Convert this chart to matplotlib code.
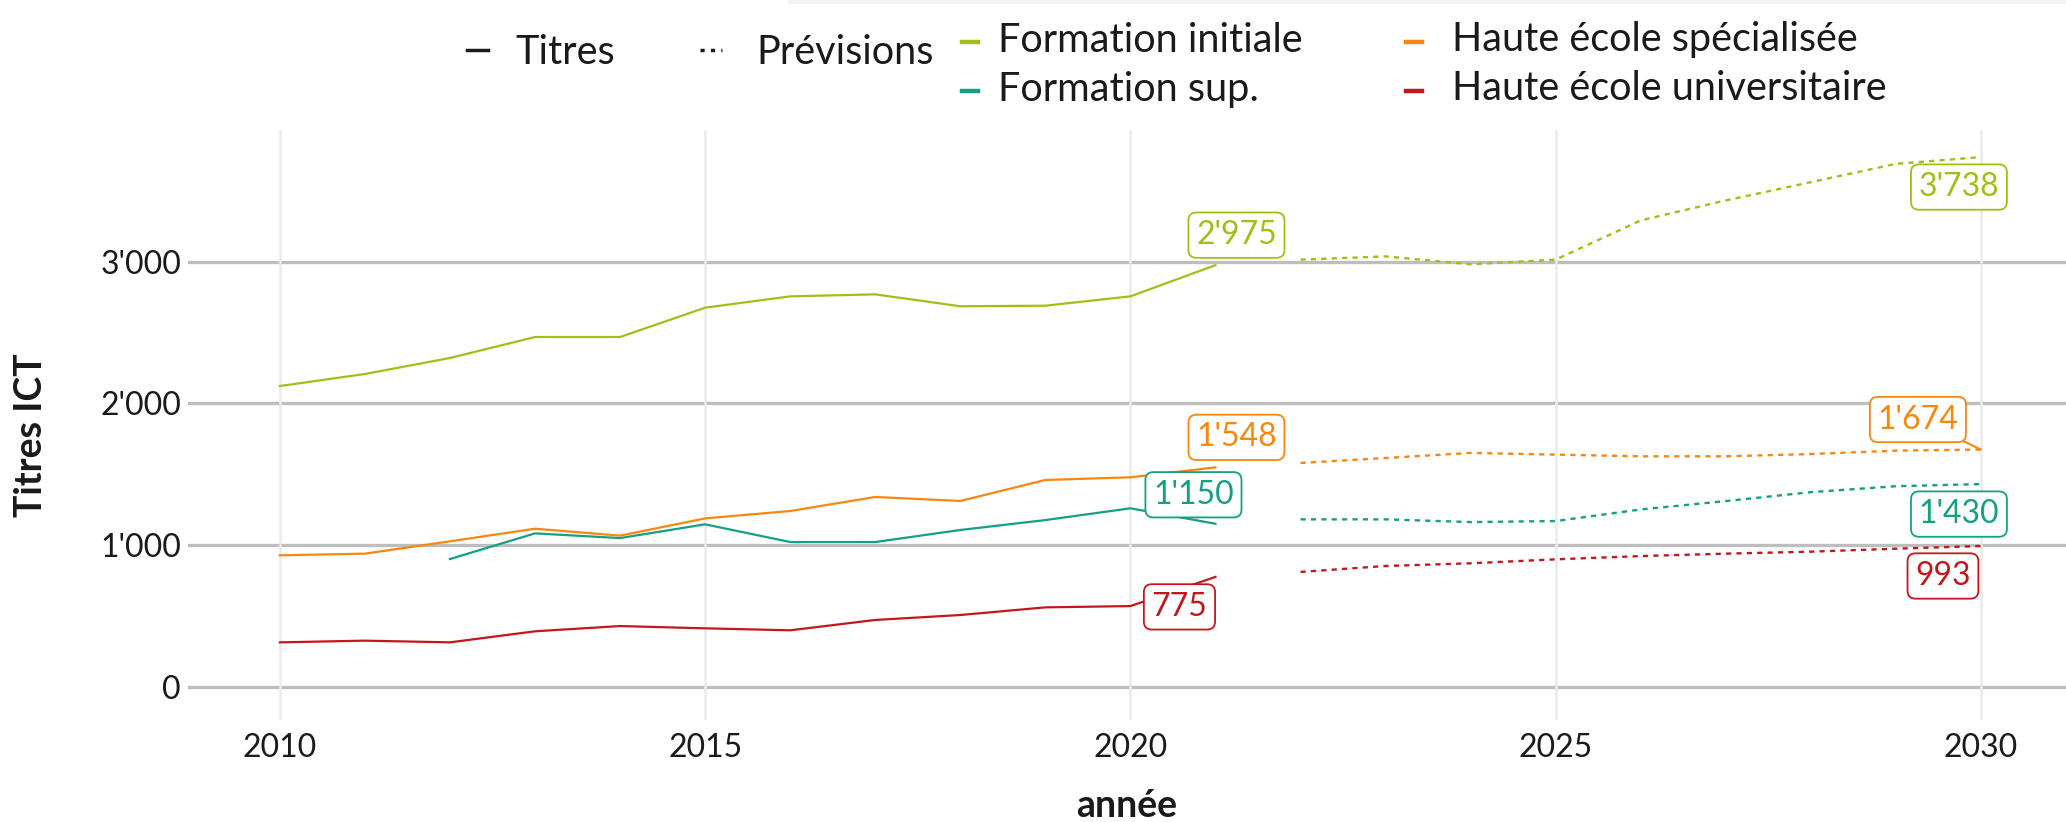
import matplotlib
matplotlib.use("Agg")
import matplotlib.pyplot as plt
from matplotlib.lines import Line2D
from matplotlib.patches import Rectangle
from matplotlib.ticker import FuncFormatter

plt.rcParams['font.family'] = ['Lato', 'DejaVu Sans']

# observed titles
years_obs = [2010, 2011, 2012, 2013, 2014, 2015, 2016, 2017, 2018, 2019, 2020, 2021]
init_obs = [2122, 2207, 2320, 2468, 2468, 2675, 2755, 2769, 2685, 2689, 2755, 2975]
hes_obs = [927, 939, 1026, 1115, 1066, 1188, 1240, 1339, 1311, 1459, 1478, 1548]
heu_obs = [313, 325, 313, 391, 428, 412, 398, 471, 506, 560, 569, 775]
years_sup = [2012, 2013, 2014, 2015, 2016, 2017, 2018, 2019, 2020, 2021]
sup_obs = [901, 1082, 1049, 1146, 1021, 1021, 1106, 1176, 1259, 1150]

# forecasts
years_prev = [2022, 2023, 2024, 2025, 2026, 2027, 2028, 2029, 2030]
init_prev = [3014, 3037, 2981, 3014, 3291, 3432, 3561, 3690, 3738]
hes_prev = [1579, 1614, 1650, 1638, 1626, 1626, 1642, 1666, 1674]
sup_prev = [1181, 1181, 1162, 1169, 1251, 1310, 1373, 1415, 1430]
heu_prev = [810, 852, 871, 899, 922, 939, 953, 974, 993]

names = ['Formation initiale', 'Formation sup.', 'Haute école spécialisée', 'Haute école universitaire']
colors = {'Formation initiale': '#a1bf16', 'Formation sup.': '#14a084',
          'Haute école spécialisée': '#f7870f', 'Haute école universitaire': '#c3161d'}

W, H = 2066, 822
fig = plt.figure(figsize=(W / 100, H / 100), dpi=100)


def fx(px):
    return px / W


def fy(py):
    return 1 - py / H


ax = fig.add_axes([fx(188), fy(720), fx(2066 - 188), (720 - 130) / H])
for s in ax.spines.values():
    s.set_visible(False)

ax.set_xlim(2008.92, 2031)
ax.set_ylim(-235, 3929)
ax.set_xticks([2010, 2015, 2020, 2025, 2030])
ax.set_yticks([0, 1000, 2000, 3000])
ax.yaxis.set_major_formatter(FuncFormatter(lambda v, p: f"{v:,.0f}".replace(",", "'")))
ax.tick_params(length=0, labelsize=23, colors='#1a1a1a')
ax.tick_params(axis='x', pad=9)
ax.tick_params(axis='y', pad=5)
for yv in ax.get_yticks():
    ax.axhline(yv, color='#bebebe', lw=2.4, zorder=0)
for xv in ax.get_xticks():
    ax.axvline(xv, color='#ebebeb', lw=1.8, zorder=0)

obs = {'Formation initiale': (years_obs, init_obs), 'Formation sup.': (years_sup, sup_obs),
       'Haute école spécialisée': (years_obs, hes_obs), 'Haute école universitaire': (years_obs, heu_obs)}
prev = {'Formation initiale': init_prev, 'Formation sup.': sup_prev,
        'Haute école spécialisée': hes_prev, 'Haute école universitaire': heu_prev}

for n in names:
    xs, ys = obs[n]
    ax.plot(xs, ys, color=colors[n], lw=1.6, zorder=2)
    ax.plot(years_prev, prev[n], color=colors[n], lw=1.7, ls=(0, (2.2, 2.2)), zorder=2)

fmt = lambda v: f"{v:,.0f}".replace(",", "'")

# label offsets (pixels) for last observed / last forecast point
off_obs = {'Formation initiale': (21, 30), 'Formation sup.': (-22, 29),
           'Haute école spécialisée': (21, 30), 'Haute école universitaire': (-36, -30)}
off_prev = {'Formation initiale': (-22, -30), 'Formation sup.': (-22, -30),
            'Haute école spécialisée': (-63, 30), 'Haute école universitaire': (-38, -30)}


def label(x, y, off, c, seg=False):
    kw = {}
    if seg:
        kw['arrowprops'] = dict(arrowstyle='-', color=c, lw=1.5, shrinkA=0, shrinkB=0)
    ax.annotate(fmt(y), xy=(x, y), xytext=off, textcoords='offset pixels',
                ha='center', va='center', fontsize=23, color=c, zorder=5,
                bbox=dict(boxstyle='round,pad=0.24,rounding_size=0.25', fc='white', ec=c, lw=1.3),
                **kw)


for n in names:
    xs, ys = obs[n]
    label(xs[-1], ys[-1], off_obs[n], colors[n])
    label(years_prev[-1], prev[n][-1], off_prev[n], colors[n],
          seg=(n == 'Haute école spécialisée'))

# axis titles
fig.text(fx(1127), fy(806), 'année', ha='center', va='center', fontsize=27, fontweight='bold', color='#1a1a1a')
fig.text(fx(31), fy(435), 'Titres ICT', ha='center', va='center', rotation=90,
         fontsize=27, fontweight='bold', color='#1a1a1a')

# legend
fig.add_artist(Rectangle((fx(788), fy(4)), 1 - fx(788), 4 / H, transform=fig.transFigure,
                         color='#f2f2f2', lw=0))


def key(x0, x1, y, c, ls='-', lw=2.5):
    fig.add_artist(Line2D([fx(x0), fx(x1)], [fy(y), fy(y)], transform=fig.transFigure,
                          color=c, lw=lw, ls=ls))


key(467, 488, 50, '#1a1a1a')
fig.text(fx(515), fy(52), 'Titres', ha='left', va='center', fontsize=28.5, color='#1a1a1a')
key(700, 722, 50, '#1a1a1a', ls=(0, (1.2, 1.8)), lw=2.5)
fig.text(fx(756), fy(52), 'Prévisions', ha='left', va='center', fontsize=28.5, color='#1a1a1a')

leg_pos = {'Formation initiale': (962, 998, 40), 'Formation sup.': (962, 998, 89),
           'Haute école spécialisée': (1406, 1452, 40), 'Haute école universitaire': (1406, 1452, 89)}
for n in names:
    kx, tx, ty = leg_pos[n]
    key(kx, kx + 16, ty + 2, colors[n], lw=3.2)
    fig.text(fx(tx), fy(ty), n, ha='left', va='center', fontsize=28.5, color='#1a1a1a')

fig.savefig('out.png', dpi=100)
